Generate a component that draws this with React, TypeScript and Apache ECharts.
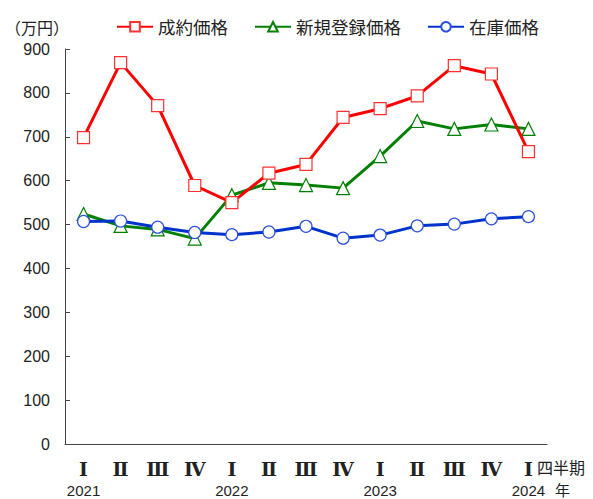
import React, { useEffect, useRef } from "react";
import * as echarts from "echarts";

const quarters = ["Ⅰ", "Ⅱ", "Ⅲ", "Ⅳ", "Ⅰ", "Ⅱ", "Ⅲ", "Ⅳ", "Ⅰ", "Ⅱ", "Ⅲ", "Ⅳ", "Ⅰ"];
const years = ["2021", "", "", "", "2022", "", "", "", "2023", "", "", "", "2024"];
const seiyaku = [698, 869, 771, 589, 550, 617, 637, 744, 764, 793, 862, 843, 666];
const shinki = [524, 497, 489, 468, 567, 595, 590, 583, 656, 736, 718, 728, 718];
const zaiko = [507, 508, 494, 482, 477, 483, 496, 469, 476, 497, 501, 513, 518];
const seriesNames = ["成約価格", "新規登録価格", "在庫価格"];

const categories = quarters.map((q, i) => q + "\n" + years[i]);

export default function App() {
  const ref = useRef<HTMLDivElement>(null);
  useEffect(() => {
    const chart = echarts.init(ref.current!, null, { renderer: "svg" });
    const font = "'Liberation Sans', Arial, sans-serif";
    const cjk = "'Noto Sans CJK JP', sans-serif";
    chart.setOption({
      animation: false,
      backgroundColor: "#fff",
      grid: { left: 65, right: 46, top: 49, bottom: 55, outerBoundsMode: "none", containLabel: false },
      legend: {
        left: 111,
        top: 13,
        itemWidth: 36,
        itemHeight: 12,
        itemGap: 26,
        textStyle: { fontSize: 17.5, color: "#222", fontFamily: cjk },
        data: seriesNames,
      },
      graphic: [
        { type: "text", left: 5, top: 17, style: { text: "（万円）", fontSize: 16, lineHeight: 20, fill: "#222", fontFamily: cjk } },
        { type: "text", left: 537, top: 459, style: { text: "四半期", fontSize: 16, lineHeight: 16, fill: "#222", fontFamily: cjk } },
        { type: "text", left: 555, top: 482, style: { text: "年", fontSize: 15, lineHeight: 15, fill: "#222", fontFamily: cjk } },
      ],
      xAxis: {
        type: "category",
        data: categories,
        boundaryGap: true,
        axisLine: { lineStyle: { color: "#444", width: 1 } },
        axisTick: { inside: true, length: 5, lineStyle: { color: "#444" }, alignWithLabel: false },
        axisLabel: {
          interval: 0,
          color: "#222",
          fontSize: 15,
          lineHeight: 23,
          margin: 13,
          fontFamily: "'DejaVu Serif', serif",
          formatter: (v: string) => {
            const [q, y] = v.split("\n");
            return "{q|" + q + "}\n{y|" + y + "}";
          },
          rich: {
            q: { fontSize: 19, fontFamily: "'DejaVu Serif', serif", fontWeight: "bold", color: "#222", lineHeight: 23 },
            y: { fontSize: 15, fontFamily: font, color: "#222", lineHeight: 20 },
          },
        },
      },
      yAxis: {
        type: "value",
        min: 0,
        max: 900,
        interval: 100,
        axisLine: { show: true, lineStyle: { color: "#444", width: 1 } },
        axisTick: { show: true, inside: true, length: 5, lineStyle: { color: "#444" } },
        splitLine: { show: false },
        axisLabel: { color: "#222", fontSize: 16, fontFamily: font, margin: 15 },
      },
      series: [
        {
          name: seriesNames[0],
          type: "line",
          data: seiyaku,
          symbol: "rect",
          symbolSize: 12,
          lineStyle: { color: "#ff0000", width: 3 },
          itemStyle: { color: "#fff", borderColor: "#ff3030", borderWidth: 1.2 },
          z: 3,
        },
        {
          name: seriesNames[1],
          type: "line",
          data: shinki,
          symbol: "triangle",
          symbolSize: 13,
          lineStyle: { color: "#008000", width: 3 },
          itemStyle: { color: "#fff", borderColor: "#008000", borderWidth: 1.2 },
          z: 2,
        },
        {
          name: seriesNames[2],
          type: "line",
          data: zaiko,
          symbol: "circle",
          symbolSize: 12,
          lineStyle: { color: "#0033cc", width: 3 },
          itemStyle: { color: "#fff", borderColor: "#2a50dd", borderWidth: 1.2 },
          z: 4,
        },
      ],
    });
    return () => chart.dispose();
  }, []);
  return <div ref={ref} style={{ width: 593, height: 499, position: "absolute", left: 0, top: 0 }} />;
}
